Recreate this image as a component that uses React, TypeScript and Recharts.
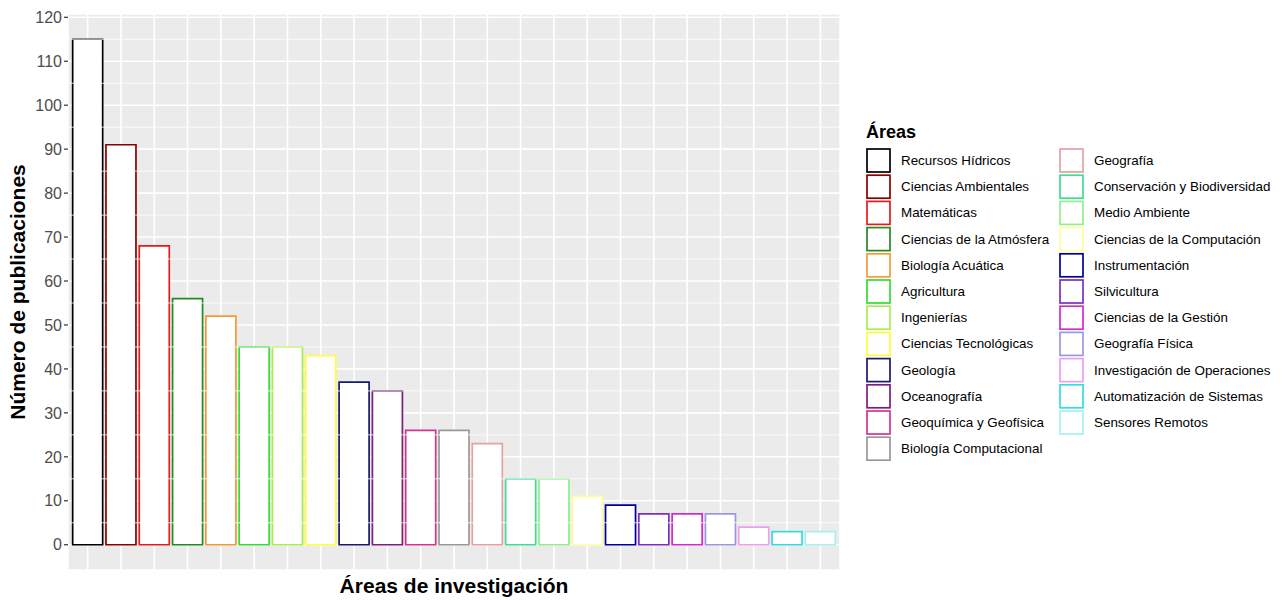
import React from "react";
import { BarChart, Bar, XAxis, YAxis, CartesianGrid, ReferenceLine, Cell } from "recharts";

const categories = [
  "Recursos Hídricos",
  "Ciencias Ambientales",
  "Matemáticas",
  "Ciencias de la Atmósfera",
  "Biología Acuática",
  "Agricultura",
  "Ingenierías",
  "Ciencias Tecnológicas",
  "Geología",
  "Oceanografía",
  "Geoquímica y Geofísica",
  "Biología Computacional",
  "Geografía",
  "Conservación y Biodiversidad",
  "Medio Ambiente",
  "Ciencias de la Computación",
  "Instrumentación",
  "Silvicultura",
  "Ciencias de la Gestión",
  "Geografía Física",
  "Investigación de Operaciones",
  "Automatización de Sistemas",
  "Sensores Remotos",
];

const publications = [115, 91, 68, 56, 52, 45, 45, 43, 37, 35, 26, 26, 23, 15, 15, 11, 9, 7, 7, 7, 4, 3, 3];

const colors = [
  "#000000",
  "#8B0000",
  "#E41A1C",
  "#228B22",
  "#F39A38",
  "#33DD33",
  "#A8EE50",
  "#FFFF33",
  "#191970",
  "#7B1F7B",
  "#D6338F",
  "#999999",
  "#E8A0A0",
  "#3DDC97",
  "#90EE90",
  "#FFFF99",
  "#0000A0",
  "#7B2FBE",
  "#D42AD4",
  "#9999DD",
  "#EEA0EE",
  "#33DDDD",
  "#A8F0F0",
];

const yTicks = [0, 10, 20, 30, 40, 50, 60, 70, 80, 90, 100, 110, 120];
const yMinor = [5, 15, 25, 35, 45, 55, 65, 75, 85, 95, 105, 115];

const data = categories.map((c, i) => ({ area: c, n: publications[i] }));

const FONT = "'Liberation Sans', Arial, Helvetica, sans-serif";

function LegendBox() {
  const rowsPerCol = 12;
  const top = 140;
  const step = 26.2;
  const cols = [
    { keyX: 858, labelX: 893 },
    { keyX: 1051, labelX: 1086 },
  ];
  return (
    <svg width={1266} height={592} style={{ position: "absolute", left: 0, top: 0, pointerEvents: "none" }}>
      <text x={858} y={130} fontFamily={FONT} fontWeight="bold" fontSize={18} fill="#000">
        Áreas
      </text>
      {categories.map((c, i) => {
        const col = cols[Math.floor(i / rowsPerCol)];
        const row = i % rowsPerCol;
        const y = top + row * step;
        return (
          <g key={c}>
            <rect x={col.keyX + 1} y={y + 1} width={23} height={23} fill="#ffffff" stroke={colors[i]} strokeWidth={1.7} />
            <text x={col.labelX} y={y + 12.5} dominantBaseline="central" fontFamily={FONT} fontSize={13.4} fill="#000">
              {c}
            </text>
          </g>
        );
      })}
    </svg>
  );
}

const EmptyTick = () => <g />;

export default function App() {
  return (
    <div style={{ position: "relative", width: 1266, height: 592, background: "#fff" }}>
      <BarChart
        width={1266}
        height={584}
        data={data}
        margin={{ top: 6, right: 434, bottom: 0, left: 0 }}
        barCategoryGap="5%"
      >
        <CartesianGrid fill="#EBEBEB" stroke="#FFFFFF" strokeWidth={1.6} />
        {yMinor.map((v) => (
          <ReferenceLine key={v} y={v} stroke="#FFFFFF" strokeWidth={0.8} ifOverflow="visible" />
        ))}
        <XAxis
          dataKey="area"
          type="category"
          tick={EmptyTick}
          tickLine={false}
          axisLine={false}
          height={22}
          interval={0}
          padding={{ left: 3, right: 3 }}
        />
        <YAxis
          type="number"
          domain={[-5.75, 120.75]}
          ticks={yTicks}
          allowDataOverflow
          width={60}
          axisLine={false}
          tickSize={4}
          tickMargin={2}
          tickLine={{ stroke: "#333333", strokeWidth: 1.2 }}
          tick={{ fill: "#4D4D4D", fontSize: 16, fontFamily: FONT }}
        />
        <Bar dataKey="n" fill="#ffffff" strokeWidth={1.7} isAnimationActive={false}>
          {data.map((d, i) => (
            <Cell key={d.area} fill="#ffffff" stroke={colors[i]} />
          ))}
        </Bar>
      </BarChart>
      <LegendBox />
      <div
        style={{
          position: "absolute",
          left: 10,
          top: 284,
          transform: "translate(-50%, -50%) rotate(-90deg)",
          whiteSpace: "nowrap",
          fontFamily: FONT,
          fontWeight: "bold",
          fontSize: 21,
          color: "#000",
        }}
      >
        Número de publicaciones
      </div>
      <div
        style={{
          position: "absolute",
          left: 446,
          top: 578,
          transform: "translate(-50%, -50%)",
          whiteSpace: "nowrap",
          fontFamily: FONT,
          fontWeight: "bold",
          fontSize: 21,
          color: "#000",
        }}
      >
        Áreas de investigación
      </div>
    </div>
  );
}
